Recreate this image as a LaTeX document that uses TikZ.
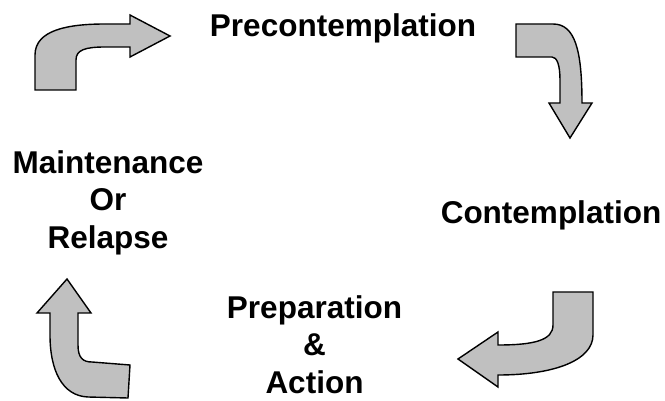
\documentclass[tikz,border=0pt]{standalone}
\usepackage{fontspec}
\setmainfont{Liberation Sans}
\usepackage{tikz}

\definecolor{arrowgray}{HTML}{C0C0C0}

\tikzset{
    stage/.style={anchor=north, inner sep=0pt, align=center,
        font=\fontsize{31.5}{37.5}\selectfont\bfseries},
    bentarrow/.style={draw=black, fill=arrowgray, line width=1.4pt, line join=miter}
}

\begin{document}
\begin{tikzpicture}[x=1pt, y=-1pt]
        \useasboundingbox (0,0) rectangle (665,401);

        % stage labels
        \node[stage] (pre) at (343,13) {Precontemplation};
        \node[stage] (con) at (551,200) {Contemplation};
        \node[stage] (prep) at (314.5,295) {Preparation\\\&\\Action};
        \node[stage] (main) at (108,150) {Maintenance\\Or\\Relapse};

        % top left arrow
        \draw[bentarrow] (35,90) -- (35,55)
            .. controls (35,30) and (68,24) .. (105,24) -- (130,24)
            -- (130,15) -- (170,36) -- (130,57) -- (130,47) -- (105,47)
            .. controls (85,47) and (76,50) .. (76,60) -- (76,90) -- cycle;

        % top right arrow
        \draw[bentarrow] (516,24) -- (553,24)
            .. controls (575,24) and (582,50) .. (582,103)
            -- (592,103) -- (570,138) -- (549,103) -- (560,103) -- (560,80)
            .. controls (560,65) and (557,57) .. (552,57) -- (516,57) -- cycle;

        % bottom right arrow
        \draw[bentarrow] (553,292) -- (593,292) -- (593,335)
            .. controls (593,360) and (555,375) .. (498,375)
            -- (498,387) -- (458,359) -- (498,332) -- (498,345)
            .. controls (535,345) and (553,340) .. (553,325) -- cycle;

        % bottom left arrow
        \draw[bentarrow] (67,279) -- (91,313) -- (78,313) -- (78,345)
            .. controls (78,358) and (83,362) .. (92,362) -- (130,365)
            -- (128,398) -- (88,397)
            .. controls (62,396) and (50,370) .. (50,335) -- (50,313)
            -- (37,313) -- cycle;
\end{tikzpicture}
\end{document}
